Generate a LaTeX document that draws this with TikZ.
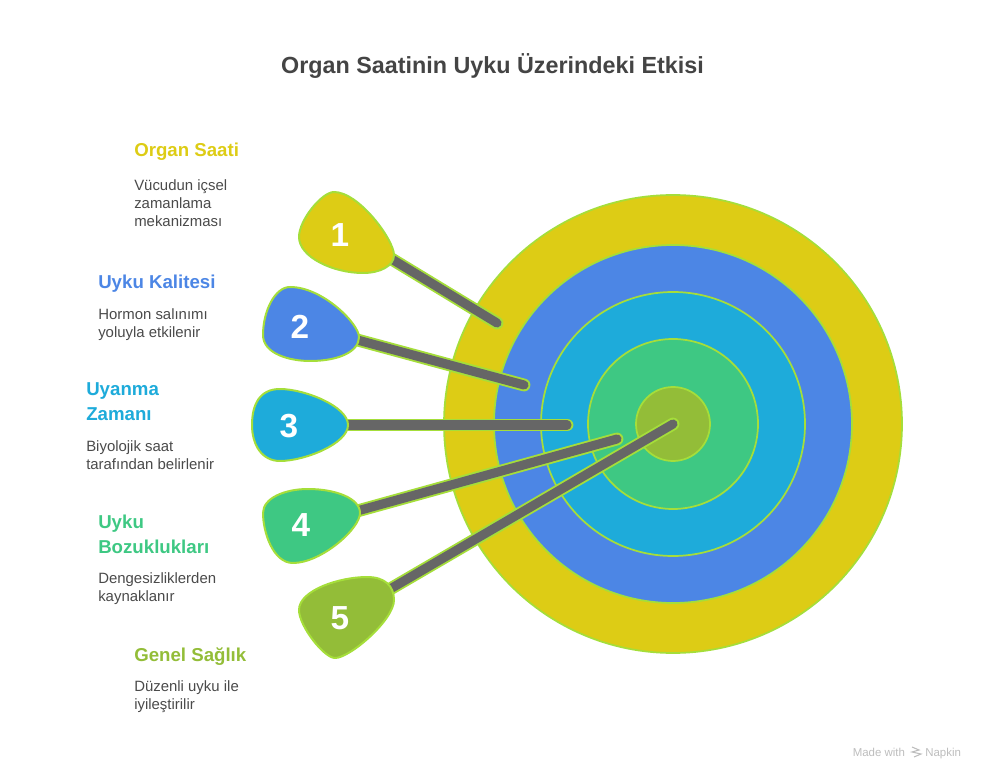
\documentclass[tikz,border=0pt]{standalone}
\usepackage{fontspec}
\setmainfont{Liberation Sans}
\definecolor{cyel}{HTML}{DDCC15}
\definecolor{cblu}{HTML}{4C86E5}
\definecolor{ccya}{HTML}{1EABDA}
\definecolor{cgrn}{HTML}{3EC883}
\definecolor{coli}{HTML}{93BD38}
\definecolor{cline}{HTML}{A5DE3A}
\definecolor{cgrey}{HTML}{666666}
\definecolor{ctitle}{HTML}{444444}
\definecolor{cbody}{HTML}{4A4A4A}
\definecolor{cfoot}{HTML}{BDBDBD}
\tikzset{
  x=0.75pt,y=-0.75pt,
  ring/.style={circle,draw=cline,line width=1.3pt,inner sep=0pt,minimum size=#1*0.75pt},
  dartedge/.style={draw=cline,line width=9.6pt,line cap=round},
  dartcore/.style={draw=cgrey,line width=6.8pt,line cap=round},
  darthead/.style={draw=cline,line width=1.5pt,line join=round},
  numlabel/.style={text=white,font=\fontsize{25}{25}\selectfont\bfseries,inner sep=0pt},
  headtext/.style={anchor=base west,inner sep=0pt,font=\fontsize{14}{18.75}\selectfont\bfseries,align=left},
  bodytext/.style={anchor=north west,inner sep=0pt,text=cbody,font=\fontsize{11.2}{13.6}\selectfont,align=left},
  footertext/.style={anchor=base west,inner sep=0pt,text=cfoot,font=\fontsize{8.6}{10}\selectfont},
}
\newcommand{\shaft}[2]{\draw[dartedge] (#1) -- (#2); \draw[dartcore] (#1) -- (#2);}
\begin{document}
\begin{tikzpicture}
\useasboundingbox (0,0) rectangle (985,780);
\node[anchor=center,inner sep=0pt,text=ctitle,font=\fontsize{17.5}{20}\selectfont\bfseries] (title) at (492.5,66) {Organ Saatinin Uyku Üzerindeki Etkisi};

\node[ring=458,fill=cyel] (r1) at (673,424) {};
\node[ring=358,fill=cblu] (r2) at (673,424) {};
\node[ring=264,fill=ccya] (r3) at (673,424) {};
\node[ring=170,fill=cgrn] (r4) at (673,424) {};
\node[ring=74,fill=coli] (r5) at (673,424) {};

\coordinate (base1) at (385,255);
\coordinate (tip1) at (497,323);
\coordinate (base2) at (350,338);
\coordinate (tip2) at (524,385);
\coordinate (base3) at (340,425);
\coordinate (tip3) at (567,425);
\coordinate (base4) at (350,513);
\coordinate (tip4) at (617,439);
\coordinate (base5) at (385,592);
\coordinate (tip5) at (673,424);

\shaft{base1}{tip1}
\shaft{base2}{tip2}
\shaft{base3}{tip3}
\shaft{base4}{tip4}
\shaft{base5}{tip5}

\path[darthead,fill=cyel] (334,192) .. controls (359,192) and (394,240) .. (394,255) .. controls (394,266) and (380,273) .. (363,273) .. controls (333,273) and (299,257) .. (299,237) .. controls (299,220) and (322,192) .. (334,192) -- cycle;
\path[darthead,fill=cblu] (290,287) .. controls (323,287) and (359,324) .. (359,337) .. controls (359,352) and (338,361) .. (310,361) .. controls (290,361) and (263,354) .. (263,335) .. controls (263,311) and (275,287) .. (290,287) -- cycle;
\path[darthead,fill=ccya] (280,389) .. controls (304,389) and (348,406) .. (348,425) .. controls (348,444) and (304,461) .. (280,461) .. controls (262,461) and (252,445) .. (252,425) .. controls (252,404) and (260,389) .. (280,389) -- cycle;
\path[darthead,fill=cgrn] (308,489) .. controls (335,489) and (360,498) .. (360,513) .. controls (360,529) and (321,563) .. (293,563) .. controls (273,563) and (263,532) .. (263,513) .. controls (263,498) and (285,489) .. (308,489) -- cycle;
\path[darthead,fill=coli] (367,577) .. controls (385,577) and (394,586) .. (394,600) .. controls (394,620) and (350,658) .. (335,658) .. controls (324,658) and (299,626) .. (299,610) .. controls (299,590) and (340,577) .. (367,577) -- cycle;

\node[numlabel] (n1) at (340,235) {1};
\node[numlabel] (n2) at (300,327) {2};
\node[numlabel] (n3) at (289,426) {3};
\node[numlabel] (n4) at (301,525) {4};
\node[numlabel] (n5) at (340,618) {5};

\node[headtext,text=cyel] (h1) at (134,157) {Organ Saati};
\node[bodytext] (b1) at (134,179) {Vücudun içsel\\zamanlama\\mekanizması};
\node[headtext,text=cblu] (h2) at (98,289) {Uyku Kalitesi};
\node[bodytext] (b2) at (98,308) {Hormon salınımı\\yoluyla etkilenir};
\node[headtext,text=ccya] (h3a) at (86,396) {Uyanma};
\node[headtext,text=ccya] (h3b) at (86,421) {Zamanı};
\node[bodytext] (b3) at (86,440) {Biyolojik saat\\tarafından belirlenir};
\node[headtext,text=cgrn] (h4a) at (98,528) {Uyku};
\node[headtext,text=cgrn] (h4b) at (98,553) {Bozuklukları};
\node[bodytext] (b4) at (98,572) {Dengesizliklerden\\kaynaklanır};
\node[headtext,text=coli] (h5) at (134,661) {Genel Sağlık};
\node[bodytext] (b5) at (134,680) {Düzenli uyku ile\\iyileştirilir};

\node[footertext] (made) at (852.5,756) {Made with};
\node[footertext] (napkin) at (925,756) {Napkin};
\draw[cfoot,line width=0.8pt] (912,747) -- (919,750) -- (912,752) -- (921,754) -- (914,757);
\end{tikzpicture}
\end{document}
